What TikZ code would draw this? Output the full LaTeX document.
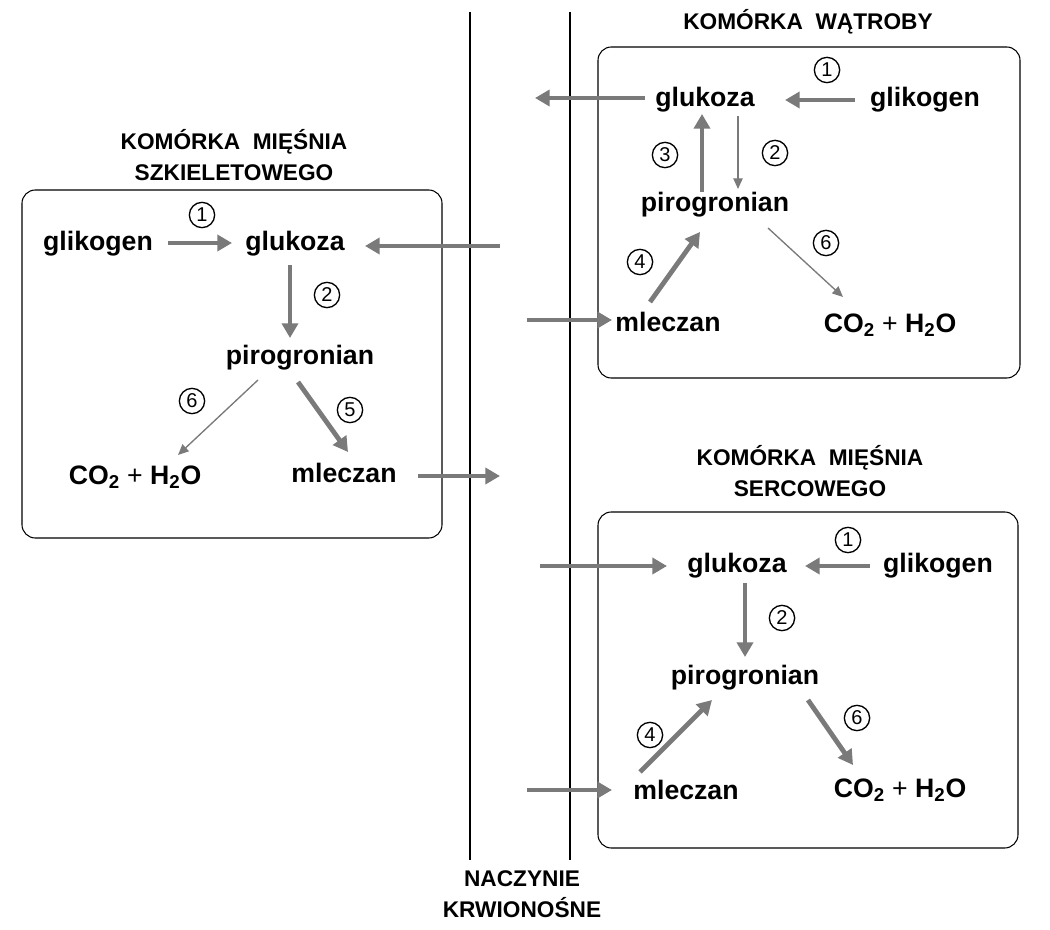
\documentclass[tikz,border=0pt]{standalone}
\usepackage{fontspec}
\setmainfont{Liberation Sans}
\usetikzlibrary{arrows.meta}
\definecolor{ar}{HTML}{7A7A7A}
\begin{document}
\begin{tikzpicture}[x=0.75pt,y=-0.75pt,
 lbl/.style={font=\bfseries\fontsize{20}{22}\selectfont, inner sep=1pt},
 ttl/.style={font=\bfseries\fontsize{17}{23}\selectfont, align=center, inner sep=1pt},
 num/.style={circle,draw,line width=1pt,inner sep=0pt,minimum size=19pt,font=\fontsize{15}{15}\selectfont},
 thick arr/.style={draw=ar,line width=3.6pt,-{Triangle[length=11pt,width=12pt]},fill=ar},
 thin arr/.style={draw=ar,line width=1pt,-{Triangle[length=8pt,width=7pt]},fill=ar},
 box/.style={draw,line width=0.8pt,rounded corners=10pt}]
\useasboundingbox (0,0) rectangle (1050,930);
% vessel
\coordinate (v1t) at (470,12); \coordinate (v1b) at (470,860);
\coordinate (v2t) at (570,12); \coordinate (v2b) at (570,860);
\draw[line width=1.5pt] (v1t) -- (v1b);
\draw[line width=1.5pt] (v2t) -- (v2b);
\node[ttl] (ves) at (522,894) {NACZYNIE\\KRWIONOŚNE};
% liver
\draw[box] (598,47) rectangle (1020,378);
\node[ttl] (tl) at (808,22) {KOMÓRKA\ \ WĄTROBY};
\node[lbl] (lglu) at (705,100) {glukoza};
\node[lbl] (lgli) at (925,100) {glikogen};
\node[lbl] (lpir) at (715,205) {pirogronian};
\node[lbl] (lmle) at (668,322) {mleczan};
\node[lbl] (lco) at (890,325) {CO\textsubscript{2} \textmd{+} H\textsubscript{2}O};
\coordinate (lout) at (535,98);
\coordinate (lin) at (527,320);
\draw[thick arr] (855,100) -- (785,100);
\node[num] at (827,70) {1};
\draw[thick arr] (645,98) -- (lout);
\draw[thin arr] (738,116) -- (738,189);
\node[num] at (775,153) {2};
\draw[thick arr] (702,192) -- (702,114);
\node[num] at (665,155) {3};
\draw[thick arr] (650,302) -- (700,232);
\node[num] at (640,262) {4};
\draw[thin arr] (768,228) -- (843,297);
\node[num] at (826,243) {6};
\draw[thick arr] (lin) -- (612,320);
% skeletal
\draw[box] (22,190) rectangle (442,538);
\node[ttl] (ts) at (234,155) {KOMÓRKA\ \ MIĘŚNIA\\SZKIELETOWEGO};
\node[lbl] (sgli) at (98,244) {glikogen};
\node[lbl] (sglu) at (295,244) {glukoza};
\node[lbl] (spir) at (300,358) {pirogronian};
\node[lbl] (sco) at (135,477) {CO\textsubscript{2} \textmd{+} H\textsubscript{2}O};
\node[lbl] (smle) at (344,473) {mleczan};
\coordinate (sin) at (500,246);
\coordinate (sout) at (500,476);
\draw[thick arr] (168,243) -- (232,243);
\node[num] at (202,215) {1};
\draw[thick arr] (sin) -- (365,246);
\draw[thick arr] (290,265) -- (290,338);
\node[num] at (327,295) {2};
\draw[thin arr] (258,380) -- (178,455);
\node[num] at (192,401) {6};
\draw[thick arr] (298,382) -- (348,452);
\node[num] at (350,410) {5};
\draw[thick arr] (418,476) -- (sout);
% heart
\draw[box] (598,512) rectangle (1018,848);
\node[ttl] (th) at (810,471) {KOMÓRKA\ \ MIĘŚNIA\\SERCOWEGO};
\node[lbl] (hglu) at (737,566) {glukoza};
\node[lbl] (hgli) at (938,566) {glikogen};
\node[lbl] (hpir) at (745,678) {pirogronian};
\node[lbl] (hmle) at (686,790) {mleczan};
\node[lbl] (hco) at (900,790) {CO\textsubscript{2} \textmd{+} H\textsubscript{2}O};
\coordinate (hin1) at (540,566);
\coordinate (hin2) at (527,790);
\draw[thick arr] (870,566) -- (805,566);
\node[num] at (848,540) {1};
\draw[thick arr] (hin1) -- (667,566);
\draw[thick arr] (745,583) -- (745,657);
\node[num] at (782,618) {2};
\draw[thick arr] (640,772) -- (712,700);
\node[num] at (650,735) {4};
\draw[thick arr] (808,700) -- (853,765);
\node[num] at (857,718) {6};
\draw[thick arr] (hin2) -- (612,790);
\end{tikzpicture}
\end{document}
